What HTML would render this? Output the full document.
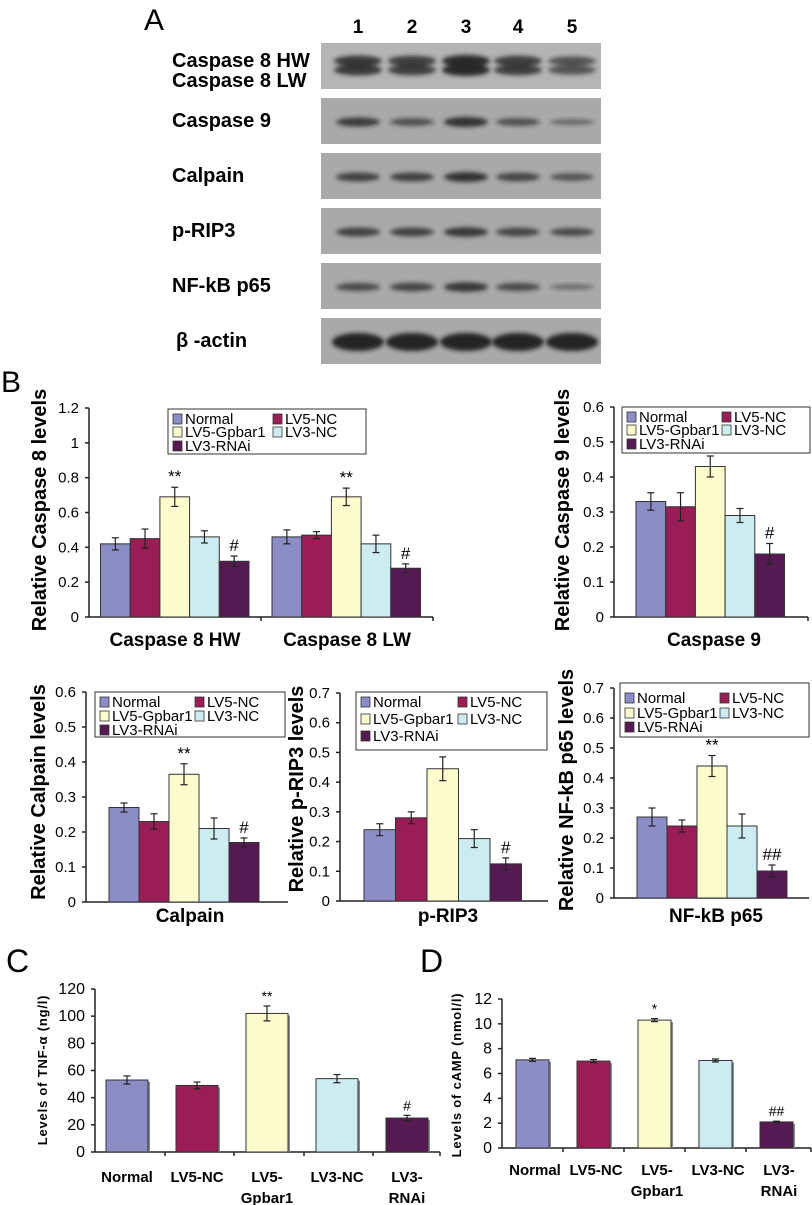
<!DOCTYPE html>
<html><head><meta charset="utf-8"><style>
body{margin:0;background:#fff}
svg{display:block}
text{font-family:"Liberation Sans",Arial,sans-serif}
.b{font-weight:bold}
</style></head><body>
<svg id="fig" width="812" height="1205" viewBox="0 0 812 1205" xmlns="http://www.w3.org/2000/svg">
<defs>
<filter id="blur" x="-20%" y="-50%" width="140%" height="200%"><feGaussianBlur stdDeviation="2"/></filter>
</defs>
<g id="panelA"></g>
<g id="panelB"></g>
<g id="panelC"></g>
<g id="panelD"></g>
</svg>
<script>
// ---------- Data ----------
const groupNames = ["Normal","LV5-NC","LV5-Gpbar1","LV3-NC","LV3-RNAi"];
const groupColors = ["#8c8cc6","#9a1e55","#fbfbcb","#cdecf1","#561a52"];

const blotRows = ["Caspase 8 HW|Caspase 8 LW","Caspase 9","Calpain","p-RIP3","NF-kB p65","β -actin"];
const laneLabels = ["1","2","3","4","5"];
const blotCasp8 = [0.8,0.75,1.0,0.75,0.55];
const blotCasp9 = [0.75,0.55,0.85,0.55,0.25];
const blotCalpain = [0.7,0.7,0.85,0.65,0.5];
const blotRip3 = [0.7,0.7,0.8,0.65,0.6];
const blotNfkb = [0.6,0.65,0.8,0.6,0.2];
const blotActin = [1,1,1,1,1];

const casp8Categories = ["Caspase 8 HW","Caspase 8 LW"];
const casp8HW = [0.42,0.45,0.69,0.46,0.32];
const casp8HWErr = [0.035,0.055,0.055,0.035,0.03];
const casp8LW = [0.46,0.47,0.69,0.42,0.28];
const casp8LWErr = [0.04,0.02,0.05,0.05,0.025];
const casp8Ticks = [0,0.2,0.4,0.6,0.8,1,1.2];

const casp9Values = [0.33,0.315,0.43,0.29,0.18];
const casp9Err = [0.025,0.04,0.03,0.02,0.03];
const casp9Ticks = [0,0.1,0.2,0.3,0.4,0.5,0.6];

const calpainValues = [0.27,0.23,0.365,0.21,0.17];
const calpainErr = [0.013,0.022,0.03,0.03,0.013];
const calpainTicks = [0,0.1,0.2,0.3,0.4,0.5,0.6];

const rip3Values = [0.24,0.28,0.445,0.21,0.125];
const rip3Err = [0.02,0.02,0.04,0.03,0.02];
const rip3Ticks = [0,0.1,0.2,0.3,0.4,0.5,0.6,0.7];

const nfkbValues = [0.27,0.24,0.44,0.24,0.09];
const nfkbErr = [0.03,0.02,0.035,0.04,0.02];
const nfkbTicks = [0,0.1,0.2,0.3,0.4,0.5,0.6,0.7];

const tnfValues = [53,49,102,54,25];
const tnfErr = [3,2.5,5.5,3,2];
const tnfTicks = [0,20,40,60,80,100,120];

const campValues = [7.1,7.0,10.3,7.05,2.1];
const campErr = [0.12,0.12,0.12,0.12,0.06];
const campTicks = [0,2,4,6,8,10,12];

const sigMarks = ["","","**","","#"];

// ---------- helpers ----------
const NS="http://www.w3.org/2000/svg";
function mk(parent,tag,attrs,txt){const e=document.createElementNS(NS,tag);for(const k in attrs)e.setAttribute(k,attrs[k]);if(txt!==undefined)e.textContent=txt;parent.appendChild(e);return e;}

// ---------- Panel A ----------
const pA=document.getElementById('panelA');
let t=mk(pA,'text',{x:144,y:30,'font-size':30});t.textContent="A";


const laneX=[358,412,466,518,572];
laneLabels.forEach((l,i)=>{const e=mk(pA,'text',{x:laneX[i],y:33,'font-size':19,'text-anchor':'middle','class':'b'},l);

});
const stripTop=[43,98,153,208,263,318];
const blotData=[blotCasp8,blotCasp9,blotCalpain,blotRip3,blotNfkb,blotActin];
blotRows.forEach((name,r)=>{
  const y=stripTop[r];
  const s=mk(pA,'rect',{x:321,y:y,width:280,height:46,fill:r==0?'#b4b4b4':'#a9a9a9'});
  
  
  const parts=name.split('|');
  if(parts.length==2){
    const a=mk(pA,'text',{x:172,y:67,'font-size':20,'class':'b'},parts[0]);
    
    
    const b=mk(pA,'text',{x:172,y:87,'font-size':20,'class':'b'},parts[1]);
    
    
  } else {
    const a=mk(pA,'text',{x:r==5?176:172,y:y+29,'font-size':20,'class':'b'},name);
    
    
  }
  blotData[r].forEach((v,i)=>{
    const g=mk(pA,'g',{filter:'url(#blur)'});
    
    
    const op=0.35+0.6*v;
    if(r==0){
      mk(g,'ellipse',{cx:laneX[i],cy:y+18,rx:24,ry:3+3*v,fill:'#222',opacity:op});
      mk(g,'ellipse',{cx:laneX[i],cy:y+27,rx:24,ry:3+3*v,fill:'#222',opacity:op});
    } else if(r==5){
      mk(g,'ellipse',{cx:laneX[i],cy:y+24,rx:26,ry:9,fill:'#1e1e1e',opacity:0.95});
    } else {
      mk(g,'ellipse',{cx:laneX[i],cy:y+24,rx:22,ry:2+3.5*v,fill:'#222',opacity:op});
    }
  });
});

// ---------- bar chart builder ----------
function barChart(parent,cfg){
  const g=mk(parent,'g',{});
  
  
  const yMax=cfg.ticks[cfg.ticks.length-1];
  const yScale=v=>cfg.y0-(v/yMax)*(cfg.y0-cfg.yTop);
  const ya=mk(g,'line',{x1:cfg.ax,y1:cfg.yTop,x2:cfg.ax,y2:cfg.y0,stroke:'#222','stroke-width':1.5});
  
  
  const xa=mk(g,'line',{x1:cfg.ax,y1:cfg.y0,x2:cfg.axEnd,y2:cfg.y0,stroke:'#222','stroke-width':1.5});
  
  
  (cfg.xTicks||[]).forEach(x=>{mk(g,'line',{x1:x,y1:cfg.y0,x2:x,y2:cfg.y0+4,stroke:'#222','stroke-width':1.5});});
  cfg.ticks.forEach(v=>{
    const y=yScale(v);
    mk(g,'line',{x1:cfg.ax-4,y1:y,x2:cfg.ax,y2:y,stroke:'#222','stroke-width':1.5});
    const e=mk(g,'text',{x:cfg.ax-10,y:y+5,'font-size':cfg.tickFs||15,'text-anchor':'end'},String(v));
    
    
  });
  const tt=mk(g,'text',{x:0,y:0,'font-size':cfg.titleFs,'class':'b','text-anchor':'middle',transform:`translate(${cfg.titleX},${cfg.titleY}) rotate(-90)`,'letter-spacing':cfg.titleLs||0},cfg.title);
  
  
  cfg.series.forEach((vals,gi)=>{
    vals.forEach((v,i)=>{
      const cx=cfg.xPos(gi,i);
      const w=cfg.barW;
      const y=yScale(v);
      if(cfg.shadow){mk(g,'rect',{x:cx-w/2+2,y:y+2,width:w,height:cfg.y0-y-2,fill:'#888'});}
      const r=mk(g,'rect',{x:cx-w/2,y:y,width:w,height:cfg.y0-y,fill:groupColors[i],stroke:'#333','stroke-width':1});
      
      
      const e=cfg.errs[gi][i];
      const yt=yScale(v+e),yb=yScale(v-e);
      mk(g,'line',{x1:cx,y1:yt,x2:cx,y2:yb,stroke:'#222','stroke-width':1.2});
      mk(g,'line',{x1:cx-3.5,y1:yt,x2:cx+3.5,y2:yt,stroke:'#222','stroke-width':1.2});
      mk(g,'line',{x1:cx-3.5,y1:yb,x2:cx+3.5,y2:yb,stroke:'#222','stroke-width':1.2});
      const m=cfg.marks[i];
      if(m){const s=mk(g,'text',{x:cx,y:yt-5,'font-size':cfg.markFs||17,'text-anchor':'middle'},m);
        
        }
    });
  });
  cfg.catLabels.forEach((lab,k)=>{
    lab.split('|').forEach((ln,j)=>{
      const e=mk(g,'text',{x:cfg.catX[k],y:cfg.catY+j*cfg.catLh,'font-size':cfg.catFs,'class':'b','text-anchor':'middle'},ln);
      
      
    });
  });
  if(cfg.legend){
    const L=cfg.legend;
    const lg=mk(g,'g',{});
    
    
    mk(lg,'rect',{x:L.x,y:L.y,width:L.w,height:L.h,fill:'#fff',stroke:'#333','stroke-width':1});
    const pos=[[0,0],[1,0],[0,1],[1,1],[0,2]];
    L.names.forEach((n,i)=>{
      const px=L.x+5+pos[i][0]*L.col, cy=L.y+L.rows[pos[i][1]];
      const it=mk(lg,'g',{});
      
      
      mk(it,'rect',{x:px,y:cy-5,width:9,height:10,fill:groupColors[i],stroke:'#333','stroke-width':0.8});
      mk(it,'text',{x:px+12,y:cy+5,'font-size':15},n);
    });
  }
  return g;
}
const pB=document.getElementById('panelB');
let bl=mk(pB,'text',{x:1,y:392,'font-size':30},"B");


const legNames=["Normal","LV5-NC","LV5-Gpbar1","LV3-NC","LV3-RNAi"];
const legNamesNF=["Normal","LV5-NC","LV5-Gpbar1","LV3-NC","LV5-RNAi"];

barChart(pB,{name:'caspase8-chart',ax:89,axEnd:433,y0:617,yTop:408,ticks:casp8Ticks,title:'Relative Caspase 8 levels',titleX:46,titleY:510,titleFs:20,
  series:[casp8HW,casp8LW],errs:[casp8HWErr,casp8LWErr],barW:29.7,xPos:(g,i)=>[100.5,272][g]+14.85+29.7*i,marks:sigMarks,xTicks:[261,433],
  catLabels:casp8Categories,catX:[175,347],catY:646,catLh:0,catFs:19,
  legend:{x:168,y:409,w:198,h:45,col:100,rows:[10,23,37],names:legNames}});
barChart(pB,{name:'caspase9-chart',ax:614,axEnd:808,y0:617,yTop:407,ticks:casp9Ticks,title:'Relative Caspase 9 levels',titleX:569,titleY:510,titleFs:20,
  series:[casp9Values],errs:[casp9Err],barW:29.7,xPos:(g,i)=>636+14.85+29.7*i,marks:sigMarks,xTicks:[808],
  catLabels:['Caspase 9'],catX:[714],catY:646,catLh:0,catFs:19,
  legend:{x:622,y:407,w:188,h:46,col:95,rows:[10,23,37],names:legNames}});
barChart(pB,{name:'calpain-chart',ax:86,axEnd:288,y0:902,yTop:692,ticks:calpainTicks,title:'Relative Calpain levels',titleX:45,titleY:792,titleFs:20,
  series:[calpainValues],errs:[calpainErr],barW:30,xPos:(g,i)=>109+15+30*i,marks:sigMarks,xTicks:[],
  catLabels:['Calpain'],catX:[190],catY:922,catLh:0,catFs:19,
  legend:{x:95,y:692,w:190,h:45,col:95,rows:[10,24,38],names:legNames}});
barChart(pB,{name:'p-rip3-chart',ax:340,axEnd:548,y0:901,yTop:693,ticks:rip3Ticks,title:'Relative p-RIP3 levels',titleX:303,titleY:789,titleFs:20,
  series:[rip3Values],errs:[rip3Err],barW:31.5,xPos:(g,i)=>364+15.75+31.5*i,marks:sigMarks,xTicks:[],
  catLabels:['p-RIP3'],catX:[448],catY:922,catLh:0,catFs:19,
  legend:{x:356,y:692,w:191,h:58,col:97,rows:[10,27,44],names:legNames}});
barChart(pB,{name:'nf-kb-p65-chart',ax:614,axEnd:809,y0:898,yTop:688,ticks:nfkbTicks,title:'Relative NF-kB p65 levels',titleX:573,titleY:790,titleFs:20,
  series:[nfkbValues],errs:[nfkbErr],barW:30,xPos:(g,i)=>637+15+30*i,marks:["","","**","","##"],xTicks:[],
  catLabels:['NF-kB p65'],catX:[716],catY:922,catLh:0,catFs:19,
  legend:{x:620,y:683,w:189,h:54,col:95,rows:[15,30,44],names:legNamesNF}});

const pC=document.getElementById('panelC');
let cl=mk(pC,'text',{x:6,y:972,'font-size':32},"C");


barChart(pC,{name:'tnf-alpha-chart',ax:95,axEnd:440,y0:1152,yTop:989,ticks:tnfTicks,title:'Levels of TNF-α (ng/l)',titleX:47,titleY:1070,titleFs:13,titleLs:0.8,tickFs:16,
  series:[tnfValues],errs:[tnfErr],barW:42,xPos:(g,i)=>127+70*i,marks:["","","**","","#"],markFs:14,xTicks:[165,234,304,373,440],shadow:true,
  catLabels:["Normal","LV5-NC","LV5-|Gpbar1","LV3-NC","LV3-|RNAi"],catX:[127,197,267,337,407],catY:1182,catLh:21,catFs:15});

const pD=document.getElementById('panelD');
let dl=mk(pD,'text',{x:420,y:972,'font-size':32},"D");


barChart(pD,{name:'camp-chart',ax:502,axEnd:811,y0:1148,yTop:999,ticks:campTicks,title:'Levels of cAMP (nmol/l)',titleX:461,titleY:1075,titleFs:13,titleLs:0.8,tickFs:16,
  series:[campValues],errs:[campErr],barW:33,xPos:(g,i)=>532.5+61*i,marks:["","","*","","##"],markFs:14,xTicks:[563,624,685,746,811],shadow:true,
  catLabels:["Normal","LV5-NC","LV5-|Gpbar1","LV3-NC","LV3-|RNAi"],catX:[535,596,657,718,779],catY:1175,catLh:21,catFs:15});
</script>
</body></html>
